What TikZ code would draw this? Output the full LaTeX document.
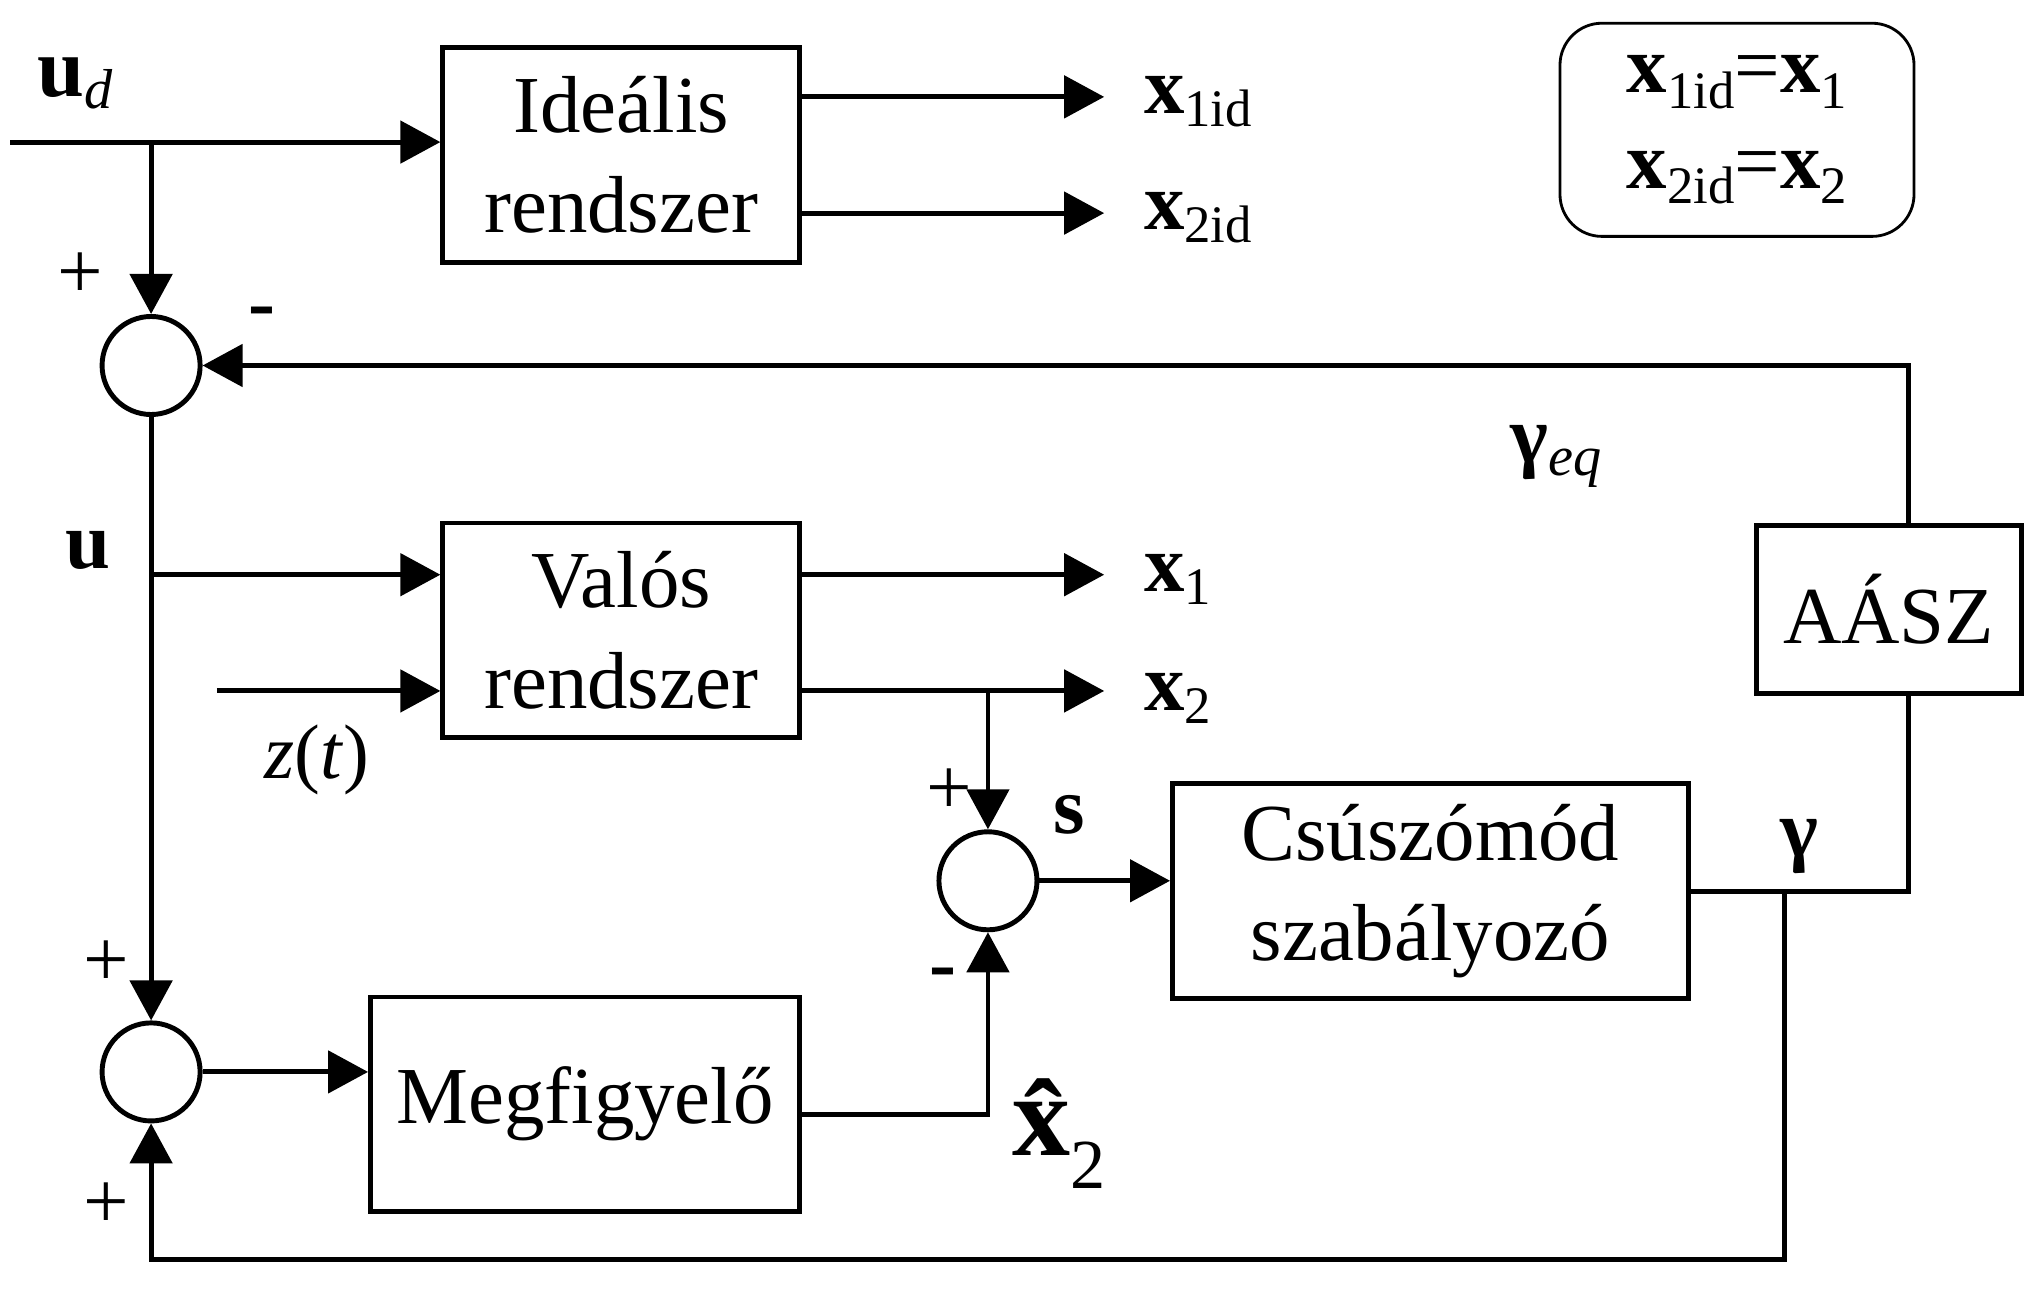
\documentclass[tikz,border=0pt]{standalone}
\usepackage{fontspec}
\setmainfont{Liberation Serif}
\usetikzlibrary{arrows.meta}
\newcommand{\mysub}[2][-3.7pt]{\raisebox{#1}{\fontsize{15}{15}\selectfont #2}}
\begin{document}
\begin{tikzpicture}[x=0.012915cm,y=-0.012915cm,line width=1.4pt,
  blk/.style={draw,line width=1.4pt,align=center,inner sep=0pt,font=\fontsize{23}{28.5}\selectfont},
  sumc/.style={draw,circle,line width=1.4pt,minimum size=0.98cm,inner sep=0pt},
  arr/.style={-{Triangle[length=0.40cm,width=0.42cm]}},
  lbl/.style={inner sep=0pt,anchor=base west,font=\fontsize{23}{23}\selectfont},
  sgn/.style={inner sep=0pt,anchor=base,font=\fontsize{23}{23}\selectfont}]
\useasboundingbox (0,0) rectangle (1568,999);

% blocks
\node[blk,minimum width=3.565cm,minimum height=2.144cm] (ideal) at (481,120) {Ideális\\rendszer};
\node[blk,minimum width=3.565cm,minimum height=2.144cm] (valos) at (481,488) {Valós\\rendszer};
\node[blk,minimum width=4.288cm,minimum height=2.144cm] (megf) at (453,855) {Megfigyelő};
\node[blk,minimum width=5.153cm,minimum height=2.144cm] (csusz) at (1107.5,690) {Csúszómód\\szabályozó};
\node[blk,minimum width=2.648cm,minimum height=1.679cm] (aasz) at (1462.5,472) {AÁSZ};
\node[draw,line width=0.8pt,rounded corners=0.42cm,minimum width=3.539cm,minimum height=2.131cm,
  align=center,inner sep=0pt,font=\fontsize{23}{27.2}\selectfont] (leg) at (1345,100.5)
  {\textbf{x}\mysub[-4.5pt]{1id}=\textbf{x}\mysub[-4.5pt]{1}\\\textbf{x}\mysub[-4.5pt]{2id}=\textbf{x}\mysub[-4.5pt]{2}};

% summing junctions
\node[sumc] (sum1) at (117,283) {};
\node[sumc] (sum2) at (765,682) {};
\node[sumc] (sum3) at (117,830) {};

% coordinates
\coordinate (uin) at (8,110);
\coordinate (j1) at (117,110);
\coordinate (o1) at (855,75);
\coordinate (o2) at (855,165);
\coordinate (fb) at (1478,283);
\coordinate (vin) at (117,445);
\coordinate (zin) at (168,535);
\coordinate (o3) at (855,445);
\coordinate (o4) at (855,535);
\coordinate (j3) at (765,535);
\coordinate (j4) at (1382,690);
\coordinate (bot) at (1382,975);
\coordinate (m1) at (765,863);

% connectors
\draw[arr] (uin) -- (ideal.west |- uin);
\draw[arr] (j1) -- (sum1.north);
\draw[arr] (ideal.east |- o1) -- (o1);
\draw[arr] (ideal.east |- o2) -- (o2);
\draw[arr] (aasz.north -| fb) -- (fb) -- (sum1.east);
\draw[arr] (sum1.south) -- (sum3.north);
\draw[arr] (vin) -- (valos.west |- vin);
\draw[arr] (zin) -- (valos.west |- zin);
\draw[arr] (valos.east |- o3) -- (o3);
\draw[arr] (valos.east |- o4) -- (o4);
\draw[arr] (j3) -- (sum2.north);
\draw[arr] (sum2.east) -- (csusz.west |- sum2);
\draw (csusz.east) -- (fb |- csusz.east) -- (aasz.south -| fb);
\draw[arr] (j4) -- (bot) -- (sum3 |- bot) -- (sum3.south);
\draw[arr] (sum3.east) -- (megf.west |- sum3);
\draw[arr] (megf.east |- m1) -- (m1) -- (sum2.south);

% labels
\node[lbl] (lud) at (27,75) {{\fontsize{24}{24}\selectfont\textbf{u}}\raisebox{-3.3pt}{\fontsize{16}{16}\selectfont\textit{d}}};
\node[lbl] (lx1id) at (884,88) {\textbf{x}\mysub{1id}};
\node[lbl] (lx2id) at (884,178) {\textbf{x}\mysub{2id}};
\node[lbl] (lgeq) at (1168,358) {\textbf{γ}\raisebox{-3.7pt}{\fontsize{16}{16}\selectfont\textit{eq}}};
\node[lbl] (lu) at (49,440) {\textbf{u}};
\node[lbl] (lx1) at (884,458) {\textbf{x}\mysub{1}};
\node[lbl] (lx2) at (884,550) {\textbf{x}\mysub{2}};
\node[lbl,font=\fontsize{22}{22}\selectfont] (lz) at (203,603) {\textit{z}(\textit{t})};
\node[sgn] (ls) at (828,645) {\textbf{s}};
\node[sgn] (lg) at (1393,663) {\textbf{γ}};
\node[lbl] (lxh) at (782,895) {{\fontsize{33}{33}\selectfont\bfseries\^x}\raisebox{-9.2pt}{\fontsize{20}{20}\selectfont 2}};

% signs
\node[sgn] (p1) at (62,231) {+};
\node[sgn] (m1s) at (203,255) {\textbf{-}};
\node[sgn] (p2) at (735,631) {+};
\node[sgn] (m2s) at (730,767) {\textbf{-}};
\node[sgn] (p3) at (82,764) {+};
\node[sgn] (p4) at (82,951) {+};
\end{tikzpicture}
\end{document}
